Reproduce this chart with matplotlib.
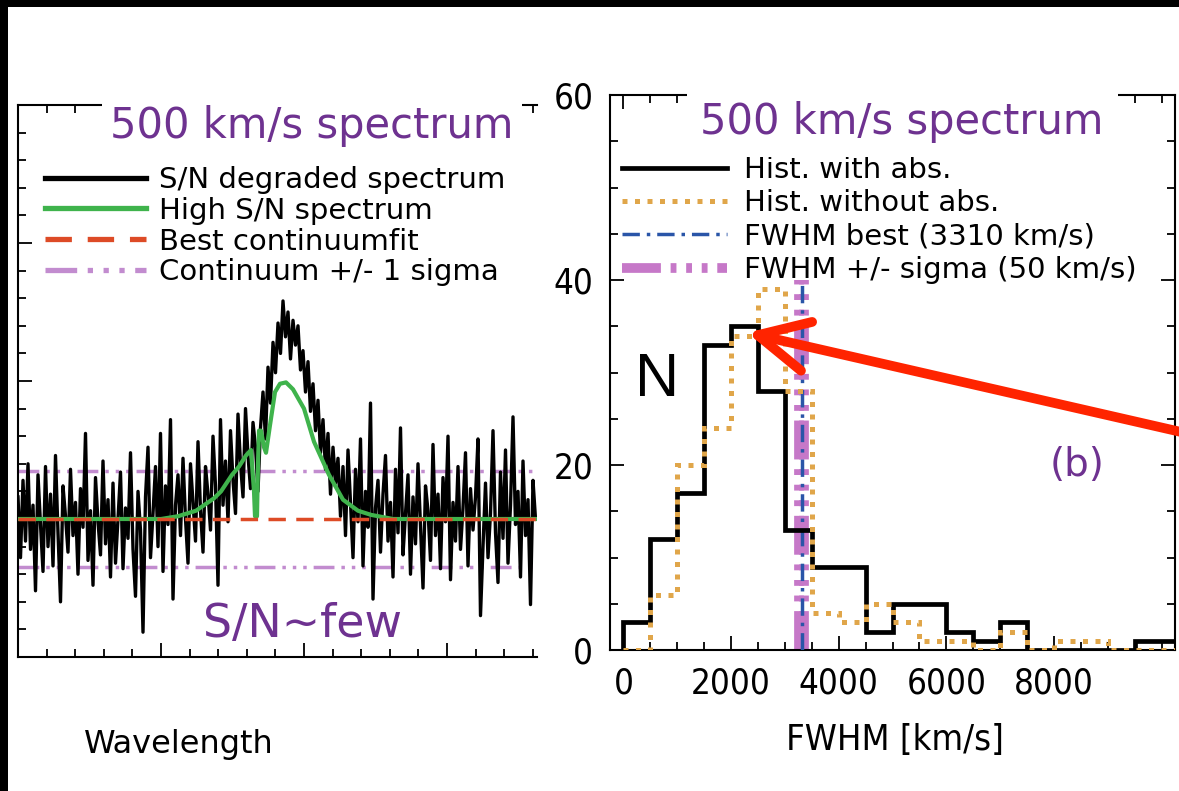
import numpy as np
import matplotlib.pyplot as plt
from matplotlib.patches import Rectangle
from matplotlib.ticker import MultipleLocator

# ---- left panel: degraded spectrum (arbitrary wavelength grid, continuum = 5) ----
spec_step = 2.5
spec_flux = [
    5.8, 3.6, 6.4, 4.2, 7.0, 3.9, 5.5, 2.4, 6.6, 4.8, 3.1, 6.9, 4.0, 5.9, 3.3, 7.3,
    4.5, 2.0, 6.2, 5.1, 3.8, 6.8, 4.4, 5.6, 3.0, 6.1, 4.7, 8.1, 3.5, 5.3, 2.6, 6.5,
    4.9, 3.7, 7.1, 4.1, 5.7, 2.9, 6.3, 3.4, 5.0, 6.7, 3.2, 5.4, 4.3, 7.4, 3.9, 2.2,
    6.0, 4.6, 0.9, 5.8, 7.6, 3.6, 5.2, 6.9, 4.0, 8.1, 3.1, 6.2, 4.8, 8.6, 2.1, 5.5,
    6.6, 4.4, 7.2, 5.0, 3.4, 7.0, 5.6, 4.2, 7.8, 5.3, 3.8, 6.9, 5.9, 4.6, 8.0, 6.2,
    2.6, 8.6, 5.5, 7.1, 4.9, 8.2, 6.4, 5.2, 8.8, 7.0, 5.8, 9.0, 7.3, 6.1, 8.5, 7.6,
    6.0, 8.3, 9.6, 7.9, 10.5, 9.2, 11.4, 10.3, 12.1, 11.0, 12.9, 11.6, 12.5, 10.8, 12.2, 11.3,
    12.0, 10.4, 11.1, 9.6, 10.7, 8.9, 9.9, 8.2, 9.3, 7.4, 8.6, 6.8, 8.1, 5.9, 7.6, 6.3,
    7.2, 5.1, 6.9, 4.4, 7.5, 5.6, 3.6, 6.8, 4.9, 7.9, 3.3, 6.0, 4.7, 9.2, 2.1, 5.4,
    6.4, 3.8, 5.9, 7.3, 4.2, 5.6, 2.9, 6.8, 4.5, 8.3, 3.7, 5.2, 6.6, 3.0, 5.8, 4.1,
    7.0, 4.7, 2.5, 6.2, 5.3, 3.5, 7.7, 4.4, 5.9, 3.2, 6.5, 4.9, 8.0, 2.8, 5.6, 4.2,
    6.9, 3.9, 5.4, 7.4, 3.3, 6.1, 4.6, 5.8, 7.9, 1.5, 4.0, 6.3, 3.6, 5.2, 8.2, 4.5,
    2.7, 6.7, 4.3, 7.5, 3.4, 5.5, 8.7, 4.8, 6.0, 2.9, 7.1, 4.4, 5.7, 1.9, 6.4, 5.0,
]
spec_wave = np.arange(len(spec_flux)) * spec_step

# high S/N model spectrum
model_wave = [0, 143, 160, 178, 196, 203, 214, 221, 228, 233, 236, 237, 239, 240, 241, 243,
              246, 248, 252, 257, 262, 268, 275, 286, 296, 311, 325, 340, 353, 375, 519]
model_flux = [5.0, 5.0, 5.1, 5.3, 5.75, 6.0, 6.6, 6.9, 7.3, 7.5, 6.0, 5.1, 5.1, 7.0, 8.2, 8.2,
              7.6, 7.4, 8.4, 9.6, 9.9, 9.95, 9.7, 9.0, 7.8, 6.6, 5.7, 5.3, 5.15, 5.0, 5.0]

continuum = 5.0
cont_sigma = 1.75

# ---- right panel: FWHM histograms ----
bin_edges = np.arange(0, 11000, 500)
hist_with_abs = [3, 12, 17, 33, 35, 28, 13, 9, 9, 2, 5, 5, 2, 1, 3, 0, 0, 0, 0, 1, 1]
hist_without_abs = [0, 6, 20, 24, 34, 39, 28, 4, 3, 5, 3, 1, 1, 0, 2, 0, 1, 1, 0, 0, 0]
fwhm_best = 3310
fwhm_sigma = 50

purple = '#6e3290'
green = '#3fb34c'
red = '#dd4b26'
lilac = '#c28ccf'
blue = '#2a55a8'
gold = '#e0a64a'
magenta = '#c678c8'
dashdots = (0, (6, 2, 1, 2, 1, 2, 1, 2))

plt.rcParams['font.family'] = ['DejaVu Sans']

fig = plt.figure(figsize=(11.79, 7.91), dpi=100, facecolor='black')
fig.patches.append(Rectangle((8 / 1179, 0), 1, 1 - 7 / 791, transform=fig.transFigure,
                             facecolor='white', edgecolor='none', zorder=-10))

# ================= left panel =================
ax1 = fig.add_axes([18 / 1179, 1 - 657 / 791, 519 / 1179, 552 / 791])
ax1.patch.set_alpha(0)
ax1.plot(spec_wave, spec_flux, color='black', lw=2.4, label='S/N degraded spectrum', zorder=3)
ax1.plot(model_wave, model_flux, color=green, lw=3.0, label='High S/N spectrum', zorder=4)
ax1.axhline(continuum, color=red, lw=2.5, ls=(0, (5, 3)), label='Best continuumfit', zorder=5)
ax1.axhline(continuum + cont_sigma, color=lilac, lw=2.5, ls=dashdots,
            label='Continuum +/- 1 sigma', zorder=2)
ax1.axhline(continuum - cont_sigma, color=lilac, lw=2.5, ls=dashdots, zorder=2)

ax1.set_xlim(0, 519)
ax1.set_ylim(0, 20)
ax1.xaxis.set_major_locator(MultipleLocator(28.6 * 5))
ax1.xaxis.set_minor_locator(MultipleLocator(28.6))
ax1.yaxis.set_major_locator(MultipleLocator(5))
ax1.yaxis.set_minor_locator(MultipleLocator(1))
ax1.tick_params(which='both', direction='in', top=True, right=False,
                labelbottom=False, labelleft=False, width=1.3)
ax1.tick_params(which='major', length=10)
ax1.tick_params(which='minor', length=6)
ax1.spines['right'].set_visible(False)
for s in ['left', 'bottom', 'top']:
    ax1.spines[s].set_linewidth(1.5)

ax1.text(0.566, 0.962, '500 km/s spectrum', transform=ax1.transAxes, ha='center', va='center',
         fontsize=30, color=purple, zorder=10,
         bbox=dict(facecolor='white', edgecolor='none', pad=6))
leg1 = ax1.legend(loc='upper left', bbox_to_anchor=(0.052, 0.89), frameon=False, fontsize=21,
                  handlelength=3.45, handletextpad=0.47, labelspacing=0.1, borderpad=0,
                  borderaxespad=0)
for line in leg1.get_lines():
    line.set_linewidth(3.8)
ax1.text(0.549, 0.058, 'S/N~few', transform=ax1.transAxes, ha='center', va='center',
         fontsize=33, color=purple)
fig.text(179 / 1179, 1 - 745 / 791, 'Wavelength', ha='center', va='center', fontsize=23)

# ================= right panel =================
ax2 = fig.add_axes([610 / 1179, 1 - 650 / 791, 565 / 1179, 555 / 791])
ax2.patch.set_alpha(0)
ax2.stairs(hist_with_abs, bin_edges, color='black', lw=3.4, label='Hist. with abs.', zorder=4)
ax2.stairs(hist_without_abs, bin_edges, color=gold, lw=3.6, ls=(0, (1, 1.5)),
           label='Hist. without abs.', zorder=5)
ax2.plot([fwhm_best - fwhm_sigma] * 2, [0, 40], color=magenta, lw=7,
         ls=(0, (4, 1, 0.6, 1, 0.6, 1, 0.6, 1)), zorder=2, label='FWHM +/- sigma (50 km/s)')
ax2.plot([fwhm_best + fwhm_sigma] * 2, [0, 40], color=magenta, lw=7,
         ls=(0, (4, 1, 0.6, 1, 0.6, 1, 0.6, 1)), zorder=2)
ax2.plot([fwhm_best] * 2, [0, 40], color=blue, lw=2.5, ls=(0, (5, 2, 1, 2)), zorder=3,
         label='FWHM best (3310 km/s)')

ax2.set_xlim(-250, 10250)
ax2.set_ylim(0, 60)
ax2.set_xticks([0, 2000, 4000, 6000, 8000])
ax2.xaxis.set_minor_locator(MultipleLocator(500))
ax2.yaxis.set_major_locator(MultipleLocator(20))
ax2.yaxis.set_minor_locator(MultipleLocator(5))
ax2.tick_params(which='both', direction='in', top=True, right=True, width=1.3, pad=12)
ax2.tick_params(which='major', length=10)
ax2.tick_params(which='minor', length=6)
for lab in ax2.get_xticklabels() + ax2.get_yticklabels():
    lab.set_fontsize(25)
    lab.set_fontstretch('condensed')
for s in ax2.spines.values():
    s.set_linewidth(1.5)

handles, labels = ax2.get_legend_handles_labels()
order = [0, 1, 3, 2]
ax2.legend([handles[i] for i in order], [labels[i] for i in order], loc='upper left',
           bbox_to_anchor=(0.021, 0.89), frameon=False, fontsize=21,
           handlelength=3.6, handletextpad=0.6, labelspacing=0.18, borderpad=0,
           borderaxespad=0)
ax2.text(0.517, 0.951, '500 km/s spectrum', transform=ax2.transAxes, ha='center', va='center',
         fontsize=30, color=purple, zorder=10,
         bbox=dict(facecolor='white', edgecolor='none', pad=10))
ax2.text(0.083, 0.485, 'N', transform=ax2.transAxes, ha='center', va='center',
         fontsize=44, family='Liberation Sans')
ax2.text(0.827, 0.333, '(b)', transform=ax2.transAxes, ha='center', va='center',
         fontsize=28, color=purple)
fig.text(895 / 1179, 1 - 740 / 791, 'FWHM [km/s]', ha='center', va='center', fontsize=26,
         fontstretch='condensed')

# pointer to the histogram peak
ax2.annotate('', xy=(2300, 34.3), xycoords='data', xytext=(1.06, 0.434),
             textcoords='figure fraction', annotation_clip=False, zorder=20,
             arrowprops=dict(arrowstyle='->,head_length=0.9,head_width=0.45', lw=7,
                             color='#ff2400', mutation_scale=40, shrinkA=0, shrinkB=0))

fig.savefig('out.png', dpi=100, facecolor='black')
